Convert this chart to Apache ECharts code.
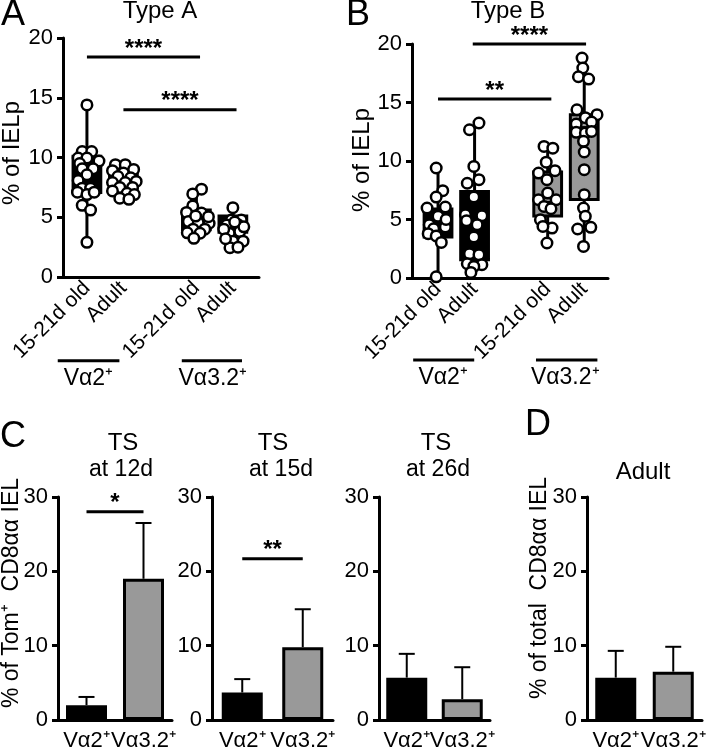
<!DOCTYPE html>
<html><head><meta charset="utf-8">
<script src="https://cdn.jsdelivr.net/npm/echarts@6/dist/echarts.min.js"></script>
<style>html,body{margin:0;padding:0;background:#fff}#c{width:714px;height:756px}</style>
</head><body><div id="c"></div>
<script>
// ================= DATA =================
// Panels A & B : box plots with individual points
const boxCategories = ['15-21d old', 'Adult', '', '15-21d old', 'Adult'];
const groupNames = ['Vα2⁺', 'Vα3.2⁺'];
// box stats: [min, q1, median, q3, max]
const typeABox = [[2.9, 7.07, 8.5, 10.1, 14.4], [6.5, 7.45, 8.1, 9.0, 9.5], [3.2, 3.95, 4.7, 5.6, 7.3], [2.45, 3.75, 4.4, 5.1, 5.8]];
const typeBBox = [[0, 3.5, 5.0, 5.9, 9.4], [0.5, 1.56, 4.5, 7.4, 13.3], [3.0, 5.3, 6.5, 9.06, 11.2], [2.65, 6.7, 12.9, 13.96, 18.85]];
// individual values (y) and horizontal jitter
const typeAValues = [
  [14.4, 10.5, 10.5, 9.95, 9.95, 9.7, 9.5, 9.05, 9.05, 8.55, 8.07, 7.43, 7.43, 7.1, 6.9, 7.1, 6.0, 5.6, 2.9],
  [9.4, 9.4, 9.0, 8.9, 8.7, 8.4, 8.3, 8.0, 7.9, 7.9, 7.5, 7.5, 7.2, 7.0, 6.9, 6.6, 6.5],
  [7.35, 6.95, 5.95, 5.4, 5.35, 4.64, 4.55, 4.5, 4.0, 4.0, 3.7, 3.66, 3.24, 5.05, 5.1],
  [5.8, 4.78, 4.78, 4.36, 4.4, 3.66, 3.8, 3.0, 3.0, 2.45, 2.5, 4.0, 4.2, 3.2, 4.6]
];
const typeAJitter = [
  [0, -0.13, 0.13, -0.24, 0, 0.33, -0.2, -0.13, 0.17, 0, -0.24, -0.13, 0.1, -0.26, 0, 0.2, -0.13, 0.1, 0],
  [-0.22, 0.05, 0.28, -0.3, 0, -0.15, 0.2, 0.35, -0.3, 0.05, -0.1, 0.25, -0.3, 0.1, 0.3, -0.1, 0.15],
  [0.14, -0.1, -0.1, -0.27, 0.14, -0.22, 0.05, 0.35, -0.09, 0.23, -0.25, 0.1, -0.07, 0.33, -0.02],
  [0, -0.04, 0.23, -0.17, 0.13, -0.1, 0.19, 0, 0.28, -0.08, 0.14, -0.25, 0.3, -0.2, 0.05]
];
const typeBValues = [
  [9.4, 7.46, 6.92, 5.98, 6.07, 5.27, 4.55, 4.2, 4.36, 3.79, 3.6, 3.04, 0.1, 5.0],
  [13.25, 12.67, 9.54, 8.4, 6.92, 5.41, 5.32, 4.56, 3.5, 2.08, 1.99, 1.22, 1.14, 0.99, 0.48, 8.1, 4.9],
  [11.25, 11.1, 9.9, 9.17, 8.97, 8.4, 7.26, 6.69, 6.69, 6.12, 5.92, 4.98, 4.27, 4.41, 2.99],
  [18.8, 17.95, 17.2, 17.0, 14.38, 13.96, 13.7, 13.16, 13.33, 12.45, 12.4, 12.53, 11.68, 10.77, 9.26, 7.12, 5.98, 5.27, 4.19, 4.33, 2.7]
];
const typeBJitter = [
  [-0.05, 0.13, -0.05, -0.3, 0.2, 0, -0.24, -0.12, 0.2, -0.27, -0.05, 0.09, -0.05, 0.22],
  [0.12, -0.14, -0.02, 0.12, -0.02, -0.25, 0.2, 0.07, -0.02, -0.14, 0.12, -0.2, 0.2, -0.02, -0.1, -0.2, -0.22],
  [-0.1, 0.14, -0.04, 0.2, -0.25, -0.02, 0, -0.25, 0.23, -0.1, 0.09, -0.2, 0.12, -0.13, -0.02],
  [-0.06, -0.04, -0.16, 0.12, -0.2, 0.35, 0.03, -0.22, 0.2, -0.22, 0.03, 0.2, -0.02, 0, 0, 0, -0.02, 0.03, -0.18, 0.18, -0.02]
];
// significance annotations
const sigA = [{x1: 1, x2: 4.1, y: 18.4, label: '****'}, {x1: 2, x2: 5.1, y: 14.0, label: '****'}];
const sigB = [{x1: 1, x2: 4.1, y: 15.3, label: '**'}, {x1: 1.95, x2: 5.05, y: 20.0, label: '****'}];

// Panels C & D : bar charts (mean + upper error)
const barCategories = ['Vα2⁺', 'Vα3.2⁺'];
const ts12Mean = [2.0, 19.0], ts12Err = [1.1, 7.5];
const ts15Mean = [3.7, 9.8], ts15Err = [1.8, 5.1];
const ts26Mean = [5.7, 2.8], ts26Err = [3.2, 4.3];
const adultMean = [5.7, 6.5], adultErr = [3.6, 3.35];
const sigC12 = [{x1: 0, x2: 1, y: 28.0, label: '*'}];
const sigC15 = [{x1: 0, x2: 1, y: 21.7, label: '**'}];

// ================= STYLE / LAYOUT =================
const FONT = '"Liberation Sans", Arial, Helvetica, sans-serif';
const BLACK = '#000', GREY = '#999';
const boxX = boxCategories.map((c, i) => c ? i + 1 : null).filter(v => v !== null);
const boxFillA = [BLACK, BLACK, BLACK, BLACK];
const boxFillB = [BLACK, BLACK, GREY, GREY];
const barFill = [BLACK, GREY];
const groupLabA = [{x1: 0.2, x2: 1.89, tx: 1.04}, {x1: 3.6, x2: 5.25, tx: 4.45}];
const groupLabB = [{x1: 0.32, x2: 1.99, tx: 1.14}, {x1: 3.68, x2: 5.36, tx: 4.48}];

function boxRender(fills) {
  return function (params, api) {
    const x = api.value(0);
    const lo = api.coord([x, api.value(1)]), q1 = api.coord([x, api.value(2)]),
      md = api.coord([x, api.value(3)]), q3 = api.coord([x, api.value(4)]), hi = api.coord([x, api.value(5)]);
    const w = api.size([0.76, 0])[0];
    const cx = lo[0];
    return {type: 'group', children: [
      {type: 'line', shape: {x1: cx, y1: lo[1], x2: cx, y2: hi[1]}, style: {stroke: BLACK, lineWidth: 3}},
      {type: 'rect', shape: {x: cx - w / 2, y: q3[1], width: w, height: q1[1] - q3[1]},
        style: {fill: fills[params.dataIndex], stroke: BLACK, lineWidth: 3}},
      {type: 'line', shape: {x1: cx - w / 2, y1: md[1], x2: cx + w / 2, y2: md[1]}, style: {stroke: BLACK, lineWidth: 2}}
    ]};
  };
}
function sigRender(list, fs) {
  return function (params, api) {
    const s = list[params.dataIndex];
    const p1 = api.coord([s.x1, s.y]), p2 = api.coord([s.x2, s.y]);
    return {type: 'group', children: [
      {type: 'line', shape: {x1: p1[0], y1: p1[1], x2: p2[0], y2: p1[1]}, style: {stroke: BLACK, lineWidth: 3}},
      {type: 'text', x: (p1[0] + p2[0]) / 2, y: p1[1] + 4,
        style: {text: s.label, fill: BLACK, font: 'bold ' + fs + 'px ' + FONT, textAlign: 'center', align: 'center', textVerticalAlign: 'bottom', verticalAlign: 'bottom'}}
    ]};
  };
}
function groupRender(list, lineY, textY) {
  return function (params, api) {
    const g = list[params.dataIndex];
    const p1 = api.coord([g.x1, lineY]), p2 = api.coord([g.x2, lineY]), pt = api.coord([g.tx, textY]);
    return {type: 'group', children: [
      {type: 'line', shape: {x1: p1[0], y1: p1[1], x2: p2[0], y2: p1[1]}, style: {stroke: BLACK, lineWidth: 3}},
      {type: 'text', x: pt[0], y: pt[1],
        style: {text: groupNames[params.dataIndex], fill: BLACK, font: '23px ' + FONT, textAlign: 'center', align: 'center', textVerticalAlign: 'middle', verticalAlign: 'middle'}}
    ]};
  };
}
function errRender(params, api) {
  const i = api.value(0);
  const p0 = api.coord([i, api.value(1)]), p1 = api.coord([i, api.value(2)]);
  return {type: 'group', children: [
    {type: 'line', shape: {x1: p0[0], y1: p0[1], x2: p1[0], y2: p1[1]}, style: {stroke: BLACK, lineWidth: 2}},
    {type: 'line', shape: {x1: p1[0] - 8, y1: p1[1], x2: p1[0] + 8, y2: p1[1]}, style: {stroke: BLACK, lineWidth: 2}}
  ]};
}

const axisLineS = {show: true, lineStyle: {color: BLACK, width: 3}};
const yTick = {show: true, length: 6, lineStyle: {color: BLACK, width: 3}};
const yLab = {fontSize: 22, color: BLACK, fontFamily: FONT, margin: 10};

const grids = [
  {left: 63, top: 38, width: 196, height: 239},
  {left: 412, top: 44, width: 196, height: 234},
  {left: 58, top: 497, width: 114, height: 223},
  {left: 212, top: 497, width: 121, height: 223},
  {left: 379, top: 497, width: 111, height: 223},
  {left: 587, top: 497, width: 115, height: 223}
];

function boxXAxis(gi, mn, mx) {
  return {gridIndex: gi, type: 'value', min: mn, max: mx, axisLine: axisLineS, axisTick: {show: false}, splitLine: {show: false},
    axisLabel: {customValues: boxX, formatter: v => boxCategories[Math.round(v) - 1], rotate: 45, fontSize: 21, color: BLACK, fontFamily: FONT, margin: 8}};
}
function boxYAxis(gi) {
  return {gridIndex: gi, type: 'value', min: 0, max: 20, interval: 5, axisLine: axisLineS, axisTick: yTick, splitLine: {show: false},
    axisLabel: yLab};
}
function barXAxis(gi) {
  return {gridIndex: gi, type: 'category', data: barCategories, axisLine: axisLineS, axisTick: {show: false},
    axisLabel: {interval: 0, fontSize: 22, color: BLACK, fontFamily: FONT, margin: 10}};
}
function barYAxis(gi) {
  return {gridIndex: gi, type: 'value', min: 0, max: 30, interval: 10, axisLine: axisLineS, axisTick: yTick, splitLine: {show: false}, axisLabel: yLab};
}

const series = [];
function addBoxPanel(gi, boxes, fills, vals, jit, sig, groups) {
  series.push({type: 'custom', xAxisIndex: gi, yAxisIndex: gi, renderItem: boxRender(fills), silent: true, z: 2,
    data: boxes.map((b, i) => [boxX[i]].concat(b)), encode: {x: 0, y: [1, 2, 3, 4, 5]}});
  vals.forEach((arr, i) => {
    series.push({type: 'scatter', xAxisIndex: gi, yAxisIndex: gi, symbol: 'circle', symbolSize: 10.5, silent: true, z: 3,
      itemStyle: {color: '#fff', borderColor: BLACK, borderWidth: 2.5, opacity: 1},
      data: arr.map((v, j) => [boxX[i] + jit[i][j], v])});
  });
  series.push({type: 'custom', xAxisIndex: gi, yAxisIndex: gi, renderItem: sigRender(sig, 24), silent: true, z: 4,
    data: sig.map(s => [s.x1, s.x2, s.y]), encode: {x: [0, 1], y: 2}});
  series.push({type: 'custom', xAxisIndex: gi, yAxisIndex: gi, renderItem: groupRender(groups, -7.0, -8.5), silent: true, z: 4,
    data: groups.map(g => [g.x1, g.x2, 0]), encode: {x: [0, 1], y: 2}});
}
function addBarPanel(gi, means, errs, sig) {
  series.push({type: 'bar', xAxisIndex: gi, yAxisIndex: gi, barWidth: 41, silent: true, z: 2,
    itemStyle: {borderColor: BLACK, borderWidth: 3},
    data: means.map((m, i) => ({value: m, itemStyle: {color: barFill[i]}}))});
  series.push({type: 'custom', xAxisIndex: gi, yAxisIndex: gi, renderItem: errRender, silent: true, z: 3,
    data: means.map((m, i) => [i, m, m + errs[i]]), encode: {x: 0, y: [1, 2]}});
  if (sig) series.push({type: 'custom', xAxisIndex: gi, yAxisIndex: gi, renderItem: sigRender(sig, 24), silent: true, z: 4,
    data: sig.map(s => [s.x1, s.x2, s.y]), encode: {x: [0, 1], y: 2}});
}
addBoxPanel(0, typeABox, boxFillA, typeAValues, typeAJitter, sigA, groupLabA);
addBoxPanel(1, typeBBox, boxFillB, typeBValues, typeBJitter, sigB, groupLabB);
addBarPanel(2, ts12Mean, ts12Err, sigC12);
addBarPanel(3, ts15Mean, ts15Err, sigC15);
addBarPanel(4, ts26Mean, ts26Err, null);
addBarPanel(5, adultMean, adultErr, null);

function txt(t, x, y, size, rot) {
  return {type: 'text', x: x, y: y, rotation: rot || 0, silent: true,
    style: {text: t, fill: BLACK, font: size + 'px ' + FONT, textAlign: 'center', align: 'center', textVerticalAlign: 'middle', verticalAlign: 'middle'}};
}
const V = Math.PI / 2;
const graphicEls = [
  txt('A', 13, 15, 36), txt('B', 358, 15, 36), txt('C', 13, 437, 36), txt('D', 538, 425, 36),
  txt('Type A', 160, 11, 24), txt('Type B', 508, 11, 24),
  txt('TS', 123, 443, 24), txt('at 12d', 121, 470, 23),
  txt('TS', 273, 443, 24), txt('at 15d', 281, 470, 23),
  txt('TS', 436, 443, 24), txt('at 26d', 438, 470, 23),
  txt('Adult', 643, 472, 24),
  txt('% of IELp', 12, 153, 24, V), txt('% of IELp', 362, 160, 24, V),
  txt('% of Tom⁺  CD8αα IEL', 12, 593, 23, V), txt('% of total  CD8αα IEL', 540, 588, 23, V)
];

const option = {
  animation: false,
  backgroundColor: '#fff',
  grid: grids,
  xAxis: [boxXAxis(0, 0.344, 5.716), boxXAxis(1, 0.288, 5.65), barXAxis(2), barXAxis(3), barXAxis(4), barXAxis(5)],
  yAxis: [boxYAxis(0), boxYAxis(1), barYAxis(2), barYAxis(3), barYAxis(4), barYAxis(5)],
  series: series,
  graphic: {elements: graphicEls}
};
const chart = echarts.init(document.getElementById('c'));
chart.setOption(option);
</script></body></html>
